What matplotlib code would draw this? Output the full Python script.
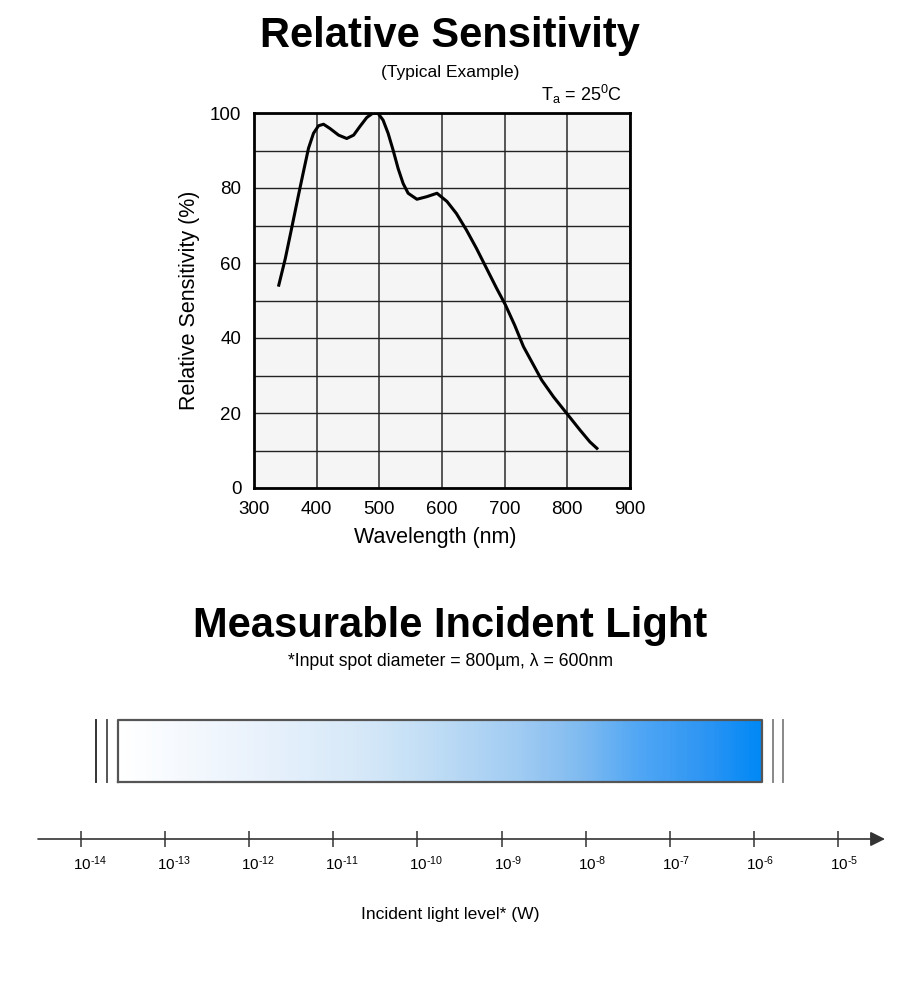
import numpy as np
import matplotlib.pyplot as plt
from matplotlib.colors import LinearSegmentedColormap
from matplotlib.ticker import FixedLocator, NullFormatter, MultipleLocator

plt.rcParams['font.family'] = ['Liberation Sans', 'DejaVu Sans']
plt.rcParams['mathtext.fontset'] = 'custom'
plt.rcParams['mathtext.rm'] = 'Liberation Sans'
plt.rcParams['mathtext.it'] = 'Liberation Sans'
plt.rcParams['mathtext.bf'] = 'Liberation Sans:bold'

# spectral response curve
wavelength = [339, 350, 360, 371, 379, 387, 395, 403, 411, 421, 435, 448, 459,
              469, 480, 490, 498, 506, 514, 522, 530, 538, 546, 560, 576, 592,
              608, 623, 639, 655, 671, 687, 701, 716, 730, 746, 759, 778, 799,
              820, 836, 849]
sensitivity = [53.7, 61.2, 69.2, 78.1, 84.4, 90.6, 94.6, 96.6, 97.0, 95.9, 94.1,
               93.2, 94.1, 96.4, 98.8, 100.0, 99.9, 98.1, 94.6, 90.1, 85.2, 81.2,
               78.6, 77.0, 77.7, 78.6, 76.4, 73.2, 68.8, 63.9, 58.6, 53.3, 48.9,
               43.4, 37.7, 32.8, 28.8, 24.3, 19.9, 15.5, 12.3, 10.3]

# measurable range (log10 W)
light_exponents = list(range(-14, -4))
range_lo, range_hi = -13.56, -5.90
grad_pos = [-13.56, -11.99, -10.68, -9.97, -8.78, -8.07, -7.35, -6.52, -5.90]
grad_col = ['#ffffff', '#eaf2fc', '#d6e8f8', '#c4dff5', '#a0cbf2', '#80bbf0',
            '#50a6f4', '#2a94f3', '#0088f5']

fig = plt.figure(figsize=(9, 10), dpi=100)

# ---------- top: relative sensitivity ----------
fig.text(0.5, 0.964, 'Relative Sensitivity', ha='center', va='center',
         fontsize=30, fontweight='bold')
fig.text(0.5, 0.927, '(Typical Example)', ha='center', va='center', fontsize=12.5)
fig.text(0.601, 0.906, r'T$_\mathregular{a}$ = 25$^\mathregular{0}$C', ha='left',
         va='center', fontsize=13)

ax = fig.add_axes([0.2822, 0.512, 0.4178, 0.375])
ax.set_facecolor('#f5f5f5')
ax.plot(wavelength, sensitivity, color='black', lw=2.2, solid_capstyle='butt',
        solid_joinstyle='round')
ax.set_xlim(300, 900)
ax.set_ylim(0, 100)
ax.xaxis.set_major_locator(MultipleLocator(100))
ax.yaxis.set_major_locator(MultipleLocator(20))
ax.yaxis.set_minor_locator(MultipleLocator(10))
ax.grid(True, which='both', axis='y', color='#222222', lw=1.0)
ax.grid(True, axis='x', color='#555555', lw=1.4)
ax.set_axisbelow(True)
for s in ax.spines.values():
    s.set_linewidth(2)
    s.set_color('black')
ax.tick_params(which='both', length=0, labelsize=13.5)
ax.tick_params(axis='y', pad=9)
ax.tick_params(axis='x', pad=9)
ax.set_xlabel('Wavelength (nm)', fontsize=15.5, labelpad=7)
ax.xaxis.label.set_x(0.481)
ax.set_ylabel('Relative Sensitivity (%)', fontsize=15.5, labelpad=7)

# ---------- bottom: measurable incident light ----------
fig.text(0.5, 0.374, 'Measurable Incident Light', ha='center', va='center',
         fontsize=30, fontweight='bold')
fig.text(0.5, 0.338, '*Input spot diameter = 800\u00b5m, \u03bb = 600nm',
         ha='center', va='center', fontsize=12.7)

ax2 = fig.add_axes([0, 0.05, 1, 0.25])
px_dec = 84.1
x_left = -14 - 81 / px_dec
x_right = -14 + 819 / px_dec
ax2.set_xlim(10 ** x_left, 10 ** x_right)
ax2.set_xscale('log')
ax2.set_ylim(0, 1)
line_y = (950 - 839) / 250
bar_top = (950 - 720) / 250
bar_bot = (950 - 782) / 250

cmap = LinearSegmentedColormap.from_list(
    'light', list(zip([(p - range_lo) / (range_hi - range_lo) for p in grad_pos], grad_col)))
edges = np.linspace(range_lo, range_hi, 300)
vals = (edges[:-1] + edges[1:]) / 2
ax2.pcolormesh(10 ** edges, [bar_bot, bar_top], vals[np.newaxis, :], cmap=cmap,
               vmin=range_lo, vmax=range_hi, shading='flat')
ax2.plot(10 ** np.array([range_lo, range_hi, range_hi, range_lo, range_lo]),
         [bar_bot, bar_bot, bar_top, bar_top, bar_bot], color='#555555', lw=1.6)
for e, c in [(-13.82, '#333333'), (-13.69, '#555555'), (-5.77, '#888888'), (-5.65, '#888888')]:
    ax2.plot([10 ** e, 10 ** e], [bar_bot, bar_top], color=c, lw=1.4)

ax2.annotate('', xy=(10 ** (-14 + 804 / px_dec), line_y),
             xytext=(10 ** (-14 - 43 / px_dec), line_y),
             arrowprops=dict(arrowstyle='-|>', color='#333333', lw=1.2,
                             mutation_scale=22, shrinkA=0, shrinkB=0))
for side in ['top', 'left', 'right', 'bottom']:
    ax2.spines[side].set_visible(False)
ax2.spines['bottom'].set_position(('data', line_y))
ax2.xaxis.set_major_locator(FixedLocator([10.0 ** n for n in light_exponents]))
ax2.xaxis.set_minor_locator(FixedLocator([]))
ax2.xaxis.set_major_formatter(NullFormatter())
ax2.tick_params(axis='x', direction='inout', length=11.5, width=1.1,
                color='#333333')
ax2.set_yticks([])
# tick labels: "10" centred on the tick, exponent hanging to the right
for n in light_exponents:
    ax2.annotate('$\\mathregular{10^{\u2010%d}}$' % abs(n), xy=(10.0 ** n, line_y),
                 xytext=(-8, -15), textcoords='offset pixels', ha='left', va='top',
                 fontsize=11)
ax2.text(0.5, (950 - 914) / 250, 'Incident light level* (W)', ha='center',
         va='center', fontsize=12.6, transform=ax2.get_yaxis_transform())

fig.savefig('out.png', dpi=100)
